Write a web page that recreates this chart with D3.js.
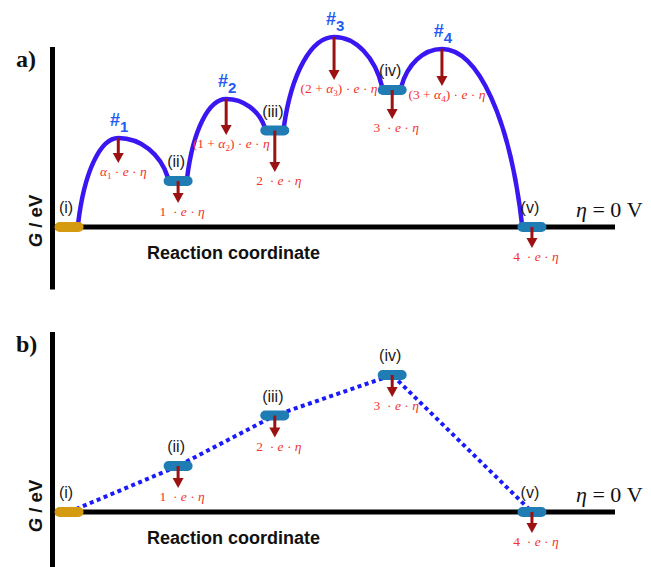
<!DOCTYPE html>
<html>
<head>
<meta charset="utf-8">
<script src="https://cdn.jsdelivr.net/npm/d3@7"></script>
<style>
  body { margin: 0; background: #fff; }
  svg { display: block; }
  text { white-space: pre; }
</style>
</head>
<body>
<script>
// Intermediate states along the reaction coordinate (G in eV at eta = 0 V)
const states = ["(i)", "(ii)", "(iii)", "(iv)", "(v)"];
const stateCoord = [2.7, 22.2, 39.5, 60.5, 85.5];
const stateG = [0, 0.92, 1.93, 2.74, 0];
// number of transferred electrons at each state (shift n·e·η)
const stateElectrons = [0, 1, 2, 3, 4];

// Transition states between consecutive intermediates
const transitions = ["1", "2", "3", "4"];
const tsCoord = [11.5, 30.8, 50.1, 69.4];
const tsG = [1.78, 2.56, 3.80, 3.56];
// integer part of the (n + α) shift at each transition state
const tsElectrons = [0, 1, 2, 3];

// Drawn length of the downward shift arrows (eV units)
const arrowStateA = [0, 0.44, 0.83, 0.58, 0.42];
const arrowTsA = [0.50, 0.72, 0.86, 0.74];
const arrowStateB = [0, 0.44, 0.44, 0.44, 0.42];

const W = 651, H = 567;
const svg = d3.select("body").append("svg").attr("width", W).attr("height", H);

const x = d3.scaleLinear().domain([0, 100]).range([54, 613]);
const yA = d3.scaleLinear().domain([0, 4]).range([227, 27]);
const yB = d3.scaleLinear().domain([0, 4]).range([512, 312]);

const C = {
  axis: "#000",
  curve: "#3a16f2",
  dotted: "#1a1aff",
  pill: "#1f7db3",
  pillStart: "#d49a10",
  arrow: "#9c1212",
  shiftText: "#f5332b",
  hash: "#1f5bf5",
  stateText: "#1a1a1a"
};
const SANS = "'Liberation Sans', Arial, Helvetica, sans-serif";
const SERIF = "'Liberation Serif', 'Times New Roman', serif";

// math-style label built from tspans
function mathLabel(g, cx, cy, tokens) {
  const t = g.append("text")
    .attr("x", cx).attr("y", cy)
    .attr("text-anchor", "middle")
    .attr("font-family", SERIF)
    .attr("font-size", 13.5)
    .attr("fill", C.shiftText);
  let inSub = false;
  tokens.forEach(tk => {
    const s = t.append("tspan").text(tk.t);
    if (tk.i) s.attr("font-style", "italic");
    if (tk.sub) { s.attr("font-size", 9).attr("dy", 3); inSub = true; }
    else if (inSub) { s.attr("dy", -3); inSub = false; }
  });
  return t;
}

function shiftTokens(n) {
  return [{ t: n + "  · " }, { t: "e", i: true }, { t: " · " }, { t: "η", i: true }];
}
function tsTokens(n, k) {
  const head = n === 0
    ? [{ t: "α", i: true }, { t: k, sub: true }]
    : [{ t: "(" + n + " + " }, { t: "α", i: true }, { t: k, sub: true }, { t: ")" }];
  return head.concat([{ t: " · " }, { t: "e", i: true }, { t: " · " }, { t: "η", i: true }]);
}

function downArrow(g, ax, y0, y1) {
  g.append("line")
    .attr("x1", ax).attr("x2", ax)
    .attr("y1", y0).attr("y2", y1 - 8)
    .attr("stroke", C.arrow).attr("stroke-width", 3);
  g.append("path")
    .attr("d", `M${ax - 5.5},${y1 - 10}L${ax + 5.5},${y1 - 10}L${ax},${y1}Z`)
    .attr("fill", C.arrow);
}

function frame(g, y, tag) {
  // energy axis and eta = 0 V reference line
  g.append("line")
    .attr("x1", x(0) - 1.5).attr("x2", x(0) - 1.5)
    .attr("y1", y(3.6)).attr("y2", y(-1.25))
    .attr("stroke", C.axis).attr("stroke-width", 5);
  g.append("line")
    .attr("x1", x(0) - 4).attr("x2", x(100) + 2)
    .attr("y1", y(0)).attr("y2", y(0))
    .attr("stroke", C.axis).attr("stroke-width", 5);

  g.append("text")
    .attr("x", 16).attr("y", y(3.2))
    .attr("font-family", SERIF).attr("font-weight", "bold")
    .attr("font-size", 24).attr("fill", "#111")
    .text(tag);

  g.append("text")
    .attr("transform", `translate(42,${y(0) - 6}) rotate(-90)`)
    .attr("text-anchor", "middle")
    .attr("font-family", SANS).attr("font-weight", "bold")
    .attr("font-size", 18.5).attr("fill", "#111")
    .call(t => {
      t.append("tspan").attr("font-style", "italic").text("G");
      t.append("tspan").text(" / eV");
    });

  g.append("text")
    .attr("x", 147).attr("y", y(0) + 32)
    .attr("font-family", SANS).attr("font-weight", "bold")
    .attr("font-size", 18).attr("fill", "#111")
    .text("Reaction coordinate");

  g.append("text")
    .attr("x", 576).attr("y", y(0) - 10)
    .attr("font-family", SERIF).attr("font-size", 22).attr("fill", "#111")
    .call(t => {
      t.append("tspan").attr("font-style", "italic").text("η");
      t.append("tspan").text(" = 0 V");
    });
}

function drawStates(g, y, arrows) {
  const pills = g.append("g");
  states.forEach((s, i) => {
    const cx = x(stateCoord[i]), cy = y(stateG[i]);
    pills.append("rect")
      .attr("x", cx - 14.5).attr("y", cy - 5)
      .attr("width", 29).attr("height", 10).attr("rx", 5)
      .attr("fill", i === 0 ? C.pillStart : C.pill);
    g.append("text")
      .attr("x", cx - (i === 0 ? 3 : 2)).attr("y", cy - 14)
      .attr("text-anchor", "middle")
      .attr("font-family", SANS).attr("font-size", 16)
      .attr("fill", C.stateText)
      .text(s);
    if (i > 0) {
      const tip = y(stateG[i] - arrows[i]);
      downArrow(g, cx, cy, tip);
      mathLabel(g, cx + 4, tip + 13, shiftTokens(stateElectrons[i]));
    }
  });
}

// ---- a) continuous energy profile with transition states ----
const gA = svg.append("g");
frame(gA, yA, "a)");

const curvePath = d3.path();
transitions.forEach((k, i) => {
  const p0 = [x(stateCoord[i]) + 9, yA(stateG[i]) - 3];
  const pk = [x(tsCoord[i]), yA(tsG[i])];
  const p1 = [x(stateCoord[i + 1]) - 10, yA(stateG[i + 1]) - 3];
  const dx1 = pk[0] - p0[0], dy1 = p0[1] - pk[1];
  const dx2 = p1[0] - pk[0], dy2 = p1[1] - pk[1];
  curvePath.moveTo(p0[0], p0[1]);
  curvePath.bezierCurveTo(p0[0] + 0.15 * dx1, p0[1] - 0.6 * dy1,
                          pk[0] - 0.45 * dx1, pk[1], pk[0], pk[1]);
  curvePath.bezierCurveTo(pk[0] + 0.45 * dx2, pk[1],
                          p1[0] - 0.15 * dx2, p1[1] - 0.6 * dy2, p1[0], p1[1]);
});
gA.append("path")
  .attr("d", curvePath.toString())
  .attr("fill", "none")
  .attr("stroke", C.curve).attr("stroke-width", 4.5)
  .attr("stroke-linecap", "round");

drawStates(gA, yA, arrowStateA);

transitions.forEach((k, i) => {
  const cx = x(tsCoord[i]), cy = yA(tsG[i]);
  const tip = yA(tsG[i] - arrowTsA[i]);
  downArrow(gA, cx, cy, tip);
  mathLabel(gA, cx + 5, tip + 13, tsTokens(tsElectrons[i], k));
  gA.append("text")
    .attr("x", cx + 1).attr("y", cy - 12)
    .attr("text-anchor", "middle")
    .attr("font-family", SANS).attr("font-size", 18)
    .attr("font-weight", "bold")
    .attr("fill", C.hash)
    .call(t => {
      t.append("tspan").text("#");
      t.append("tspan").attr("font-size", 15).attr("dy", 6).text(k);
    });
});

// ---- b) thermodynamic profile through the intermediates only ----
const gB = svg.append("g");
frame(gB, yB, "b)");

const line = d3.line().x(d => x(d[0])).y(d => yB(d[1]));
gB.append("path")
  .datum(stateCoord.map((c, i) => [c, stateG[i]]))
  .attr("d", line)
  .attr("fill", "none")
  .attr("stroke", C.dotted).attr("stroke-width", 4)
  .attr("stroke-dasharray", "4,3.5");

drawStates(gB, yB, arrowStateB);
</script>
</body>
</html>
